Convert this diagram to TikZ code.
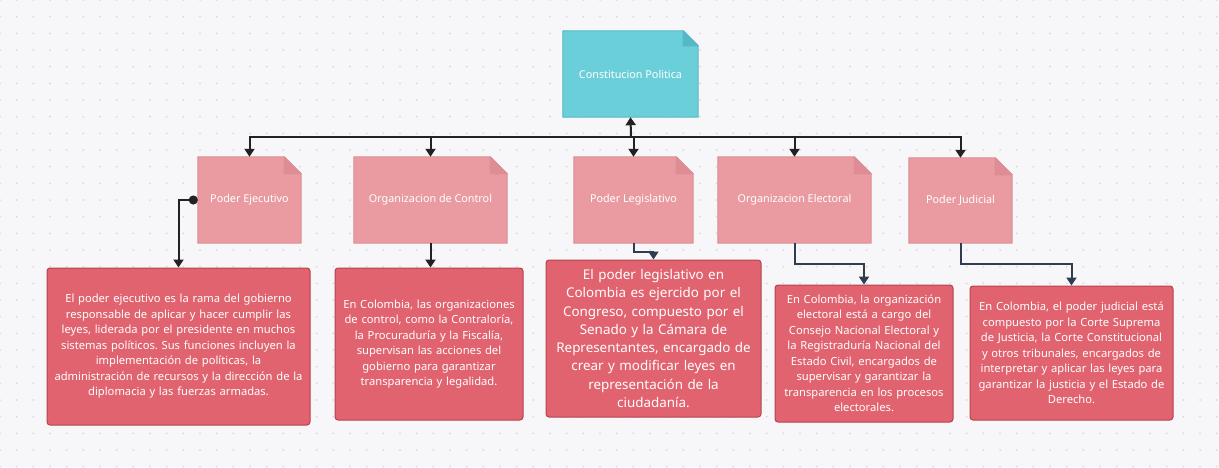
\documentclass[tikz,border=0pt]{standalone}
\usepackage{fontspec}
\setmainfont{Noto Sans}
\frenchspacing
\usetikzlibrary{arrows.meta}
\usetikzlibrary{backgrounds}

\definecolor{fondo}{HTML}{F7F7F9}
\definecolor{punto}{HTML}{D9D9DE}
\definecolor{tealf}{HTML}{6BCFDA}
\definecolor{tealb}{HTML}{55B8C5}
\definecolor{rosaf}{HTML}{E99BA1}
\definecolor{rosab}{HTML}{DE8D95}
\definecolor{rojof}{HTML}{E0636F}
\definecolor{rojob}{HTML}{B5434F}
\definecolor{linea}{HTML}{222222}
\definecolor{lineaz}{HTML}{2E3E50}

\tikzset{
  titulo/.style={inner sep=0pt, text=white, font=\fontsize{10.8}{13}\selectfont},
  detalle/.style={draw=rojob, fill=rojof, line width=1pt, rounded corners=3pt,
    inner sep=0pt, text=white, align=center, font=\fontsize{11.2}{15.5}\selectfont},
  conector/.style={line width=2pt, draw=linea, -{Triangle[width=10pt,length=8pt]}},
}

% hoja con esquina doblada: nodo, relleno, borde, doblez
\newcommand{\hoja}[4]{%
  \filldraw[fill=#2, draw=#3, line width=1pt, line join=round]
    (#1.north west) -- ([xshift=-#4pt]#1.north east) -- ([yshift=-#4pt]#1.north east)
    -- (#1.south east) -- (#1.south west) -- cycle;
  \filldraw[fill=#3, draw=#3, line width=1pt, line join=round]
    ([xshift=-#4pt]#1.north east) -- ([xshift=-#4pt,yshift=-#4pt]#1.north east)
    -- ([yshift=-#4pt]#1.north east) -- cycle;
}

\begin{document}
\begin{tikzpicture}[x=1pt, y=-1pt]
  \useasboundingbox (0,0) rectangle (1219,467);

  % nivel 1
  \node[titulo, minimum width=135, minimum height=86] (cp) at (630.5,74) {Constitucion Politica};

  % nivel 2
  \node[titulo, minimum width=103, minimum height=86] (pe) at (249.5,200) {Poder Ejecutivo};
  \node[titulo, minimum width=153, minimum height=86] (oc) at (430.5,200) {Organizacion de Control};
  \node[titulo, minimum width=119, minimum height=86] (pl) at (633.5,200) {Poder Legislativo};
  \node[titulo, minimum width=153, minimum height=86] (oe) at (794.5,200) {Organizacion Electoral};
  \node[titulo, minimum width=103, minimum height=85] (pj) at (960.5,200.5) {Poder Judicial};

  % nivel 3
  \node[detalle, minimum width=263, minimum height=157, text width=262] (d1) at (178.5,346.5)
    {El poder ejecutivo es la rama del gobierno\\ responsable de aplicar y hacer cumplir las\\
     leyes, liderada por el presidente en muchos\\ sistemas políticos. Sus funciones incluyen la\\
     implementación de políticas, la\\ administración de recursos y la dirección de la\\
     diplomacia y las fuerzas armadas.};
  \node[detalle, minimum width=188, minimum height=152, text width=187] (d2) at (429,344)
    {En Colombia, las organizaciones\\ de control, como la Contraloría,\\ la Procuraduría y la Fiscalía,\\
     supervisan las acciones del\\ gobierno para garantizar\\ transparencia y legalidad.};
  \node[detalle, minimum width=215, minimum height=157, text width=214,
        font=\fontsize{13.4}{18.3}\selectfont] (d3) at (653.5,338.5)
    {El poder legislativo en\\ Colombia es ejercido por el\\ Congreso, compuesto por el\\
     Senado y la Cámara de\\ Representantes, encargado de\\ crear y modificar leyes en\\
     representación de la\\ ciudadanía.};
  \node[detalle, minimum width=178, minimum height=137, text width=177] (d4) at (864,353.5)
    {En Colombia, la organización\\ electoral está a cargo del\\ Consejo Nacional Electoral y\\
     la Registraduría Nacional del\\ Estado Civil, encargados de\\ supervisar y garantizar la\\
     transparencia en los procesos\\ electorales.};
  \node[detalle, minimum width=203, minimum height=134, text width=202] (d5) at (1071.5,353)
    {En Colombia, el poder judicial está\\ compuesto por la Corte Suprema\\ de Justicia, la Corte Constitucional\\
     y otros tribunales, encargados de\\ interpretar y aplicar las leyes para\\ garantizar la justicia y el Estado de\\
     Derecho.};

  % fondo punteado y hojas
  \begin{scope}[on background layer]
    \fill[fondo] (0,0) rectangle (1219,467);
    \foreach \i in {0,...,73}
      \foreach \j in {0,...,28}
        \fill[punto] (\i*16.667,\j*16.667) circle (1pt);
    \hoja{cp}{tealf}{tealb}{15}
    \foreach \n in {pe,oc,pl,oe,pj}
      {\hoja{\n}{rosaf}{rosab}{17}}
  \end{scope}

  % conectores
  \coordinate (bus) at (631,137);
  \draw[line width=2pt, linea, line cap=rect] (pe.north |- bus) -- (pj.north |- bus);
  \draw[conector] (bus) -- (cp.south);
  \foreach \n in {pe,oc,pl,oe,pj}
    \draw[conector] (\n.north |- bus) -- (\n.north);

  \draw[conector, {Circle[length=9pt]}-{Triangle[width=10pt,length=8pt]}] (pe.west) -| (d1.north);
  \draw[conector] (oc.south) -- (oc.south |- d2.north);
  \draw[conector, lineaz] (pl.south) -- ++(0,9) -| (d3.north);
  \draw[conector, lineaz] (oe.south) -- ++(0,21) -| (d4.north);
  \draw[conector, lineaz] (pj.south) -- ++(0,21) -| (d5.north);
\end{tikzpicture}
\end{document}
